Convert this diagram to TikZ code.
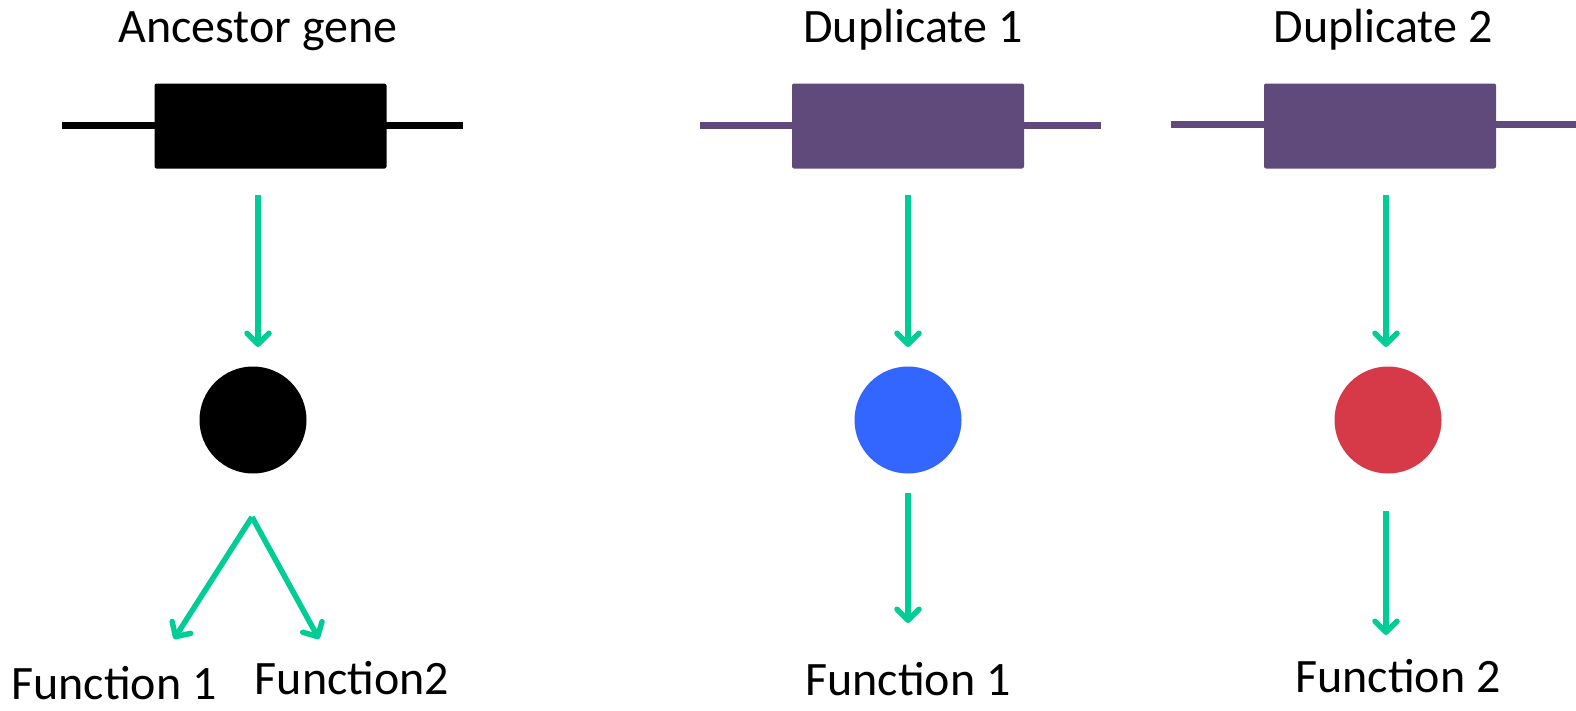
\documentclass[tikz,border=0pt]{standalone}
\usepackage{fontspec}
\setmainfont{Carlito}
\usetikzlibrary{arrows.meta}
\definecolor{arrowgreen}{RGB}{0,204,150}
\definecolor{genepurple}{RGB}{96,74,123}
\definecolor{protblue}{RGB}{51,102,255}
\definecolor{protred}{RGB}{214,58,72}
\begin{document}
\begin{tikzpicture}[x=1pt,y=-1pt,
  genebox/.style={draw=none,rounded corners=2pt,minimum width=232pt,minimum height=85pt,inner sep=0pt},
  geneline/.style={line width=7pt},
  protein/.style={circle,draw=none,minimum size=107pt,inner sep=0pt},
  flow/.style={arrowgreen,line width=5.5pt,-{Straight Barb[length=11pt,width=22pt,line cap=round,line join=round]}},
  label/.style={font=\fontsize{48}{56}\selectfont,anchor=base,inner sep=0pt}]
\useasboundingbox (0,0) rectangle (1576,710);
% Ancestor gene
\coordinate (aL) at (62,125);
\coordinate (aR) at (463,125);
\draw[geneline,black] (aL) -- (aR);
\node[genebox,fill=black] (abox) at (270.5,126) {};
\node[label] (atitle) at (258,42) {Ancestor gene};
\coordinate (a1s) at (258,195);
\coordinate (a1e) at (258,347);
\draw[flow] (a1s) -- (a1e);
\node[protein,fill=black] (aprot) at (253,420) {};
\coordinate (asplit) at (252,517);
\coordinate (af1e) at (174,639);
\coordinate (af2e) at (319,639);
\draw[flow] (asplit) -- (af1e);
\draw[flow] (asplit) -- (af2e);
\node[label] (af1) at (114,699) {Function 1};
\node[label] (af2) at (352,694) {Function2};
% Duplicate 1
\coordinate (d1L) at (700,125.5);
\coordinate (d1R) at (1101,125.5);
\draw[geneline,genepurple] (d1L) -- (d1R);
\node[genebox,fill=genepurple] (d1box) at (908,126) {};
\node[label] (d1title) at (913,42) {Duplicate 1};
\coordinate (d1s) at (908,195);
\coordinate (d1e) at (908,347);
\draw[flow] (d1s) -- (d1e);
\node[protein,fill=protblue] (d1prot) at (908,420) {};
\coordinate (d1fs) at (908,493);
\coordinate (d1fe) at (908,623);
\draw[flow] (d1fs) -- (d1fe);
\node[label] (d1f) at (908,695) {Function 1};
% Duplicate 2
\coordinate (d2L) at (1171,124.5);
\coordinate (d2R) at (1576,124.5);
\draw[geneline,genepurple] (d2L) -- (d2R);
\node[genebox,fill=genepurple] (d2box) at (1380,126) {};
\node[label] (d2title) at (1383,42) {Duplicate 2};
\coordinate (d2s) at (1386,195);
\coordinate (d2e) at (1386,347);
\draw[flow] (d2s) -- (d2e);
\node[protein,fill=protred] (d2prot) at (1388,420) {};
\coordinate (d2fs) at (1386,511);
\coordinate (d2fe) at (1386,635);
\draw[flow] (d2fs) -- (d2fe);
\node[label] (d2f) at (1398,692) {Function 2};
\end{tikzpicture}
\end{document}
